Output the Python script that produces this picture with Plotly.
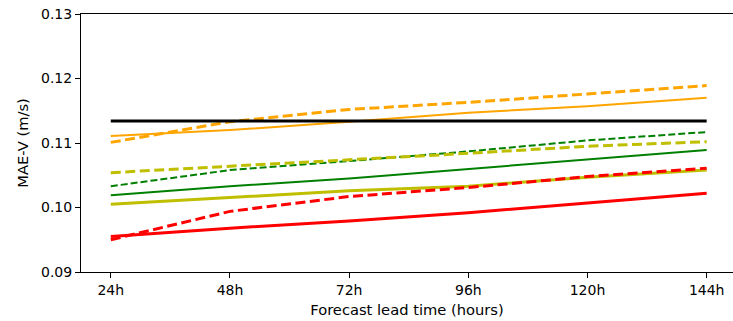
import plotly.graph_objects as go

lead_hours = [24, 48, 72, 96, 120, 144]
tick_labels = ["24h", "48h", "72h", "96h", "120h", "144h"]

baseline = [0.1134, 0.1134, 0.1134, 0.1134, 0.1134, 0.1134]
orange_solid = [0.1111, 0.1120, 0.1133, 0.1147, 0.1157, 0.1170]
orange_dashed = [0.1101, 0.1133, 0.1152, 0.1163, 0.1176, 0.1189]
green_solid = [0.1019, 0.1033, 0.1045, 0.1060, 0.1075, 0.1089]
green_dashed = [0.1033, 0.1058, 0.1072, 0.1087, 0.1104, 0.1117]
olive_solid = [0.1005, 0.1015, 0.1026, 0.1033, 0.1047, 0.1058]
olive_dashed = [0.1054, 0.1064, 0.1073, 0.1084, 0.1095, 0.1102]
red_solid = [0.0955, 0.0968, 0.0979, 0.0992, 0.1007, 0.1022]
red_dashed = [0.0950, 0.0994, 0.1017, 0.1031, 0.1048, 0.1061]

series = [
    ("orange solid", orange_solid, "#FFA500", 2.0, "solid"),
    ("orange dashed", orange_dashed, "#FFA500", 3.0, "10px,4.5px"),
    ("green solid", green_solid, "#008000", 2.0, "solid"),
    ("green dashed", green_dashed, "#008000", 2.0, "7px,3px"),
    ("olive solid", olive_solid, "#BFBF00", 3.0, "solid"),
    ("olive dashed", olive_dashed, "#BFBF00", 3.0, "10px,4.5px"),
    ("red solid", red_solid, "#FF0000", 3.0, "solid"),
    ("red dashed", red_dashed, "#FF0000", 3.0, "10px,4.5px"),
    ("baseline", baseline, "#000000", 3.0, "solid"),
]

fig = go.Figure()
for name, vals, color, width, dash in series:
    fig.add_trace(go.Scatter(
        x=lead_hours, y=vals, mode="lines", name=name,
        line=dict(color=color, width=width, dash=dash),
        showlegend=False,
    ))

font = dict(family="DejaVu Sans", size=14, color="#000000")
title_font = dict(family="DejaVu Sans", size=14.7, color="#000000")

fig.update_layout(
    width=733, height=321,
    margin=dict(l=81, r=0, t=14, b=49),
    paper_bgcolor="white", plot_bgcolor="white",
    font=font,
    xaxis=dict(
        range=[18, 149.3],
        tickmode="array", tickvals=lead_hours, ticktext=tick_labels,
        tickfont=font,
        showgrid=False, zeroline=False,
        showline=True, linecolor="#000000", linewidth=1, mirror=True,
        ticks="outside", ticklen=5, tickwidth=1, tickcolor="#000000",
        title=dict(text="Forecast lead time (hours)", standoff=7, font=title_font),
    ),
    yaxis=dict(
        range=[0.09, 0.13],
        tickmode="array", tickvals=[0.09, 0.10, 0.11, 0.12, 0.13],
        ticktext=["0.09", "0.10", "0.11", "0.12", "0.13"],
        tickfont=font,
        showgrid=False, zeroline=False,
        showline=True, linecolor="#000000", linewidth=1,
        ticks="outside", ticklen=5, tickwidth=1, tickcolor="#000000",
        title=dict(text="MAE-V (m/s)", standoff=8, font=title_font),
    ),
)

fig.write_html("out.html")
